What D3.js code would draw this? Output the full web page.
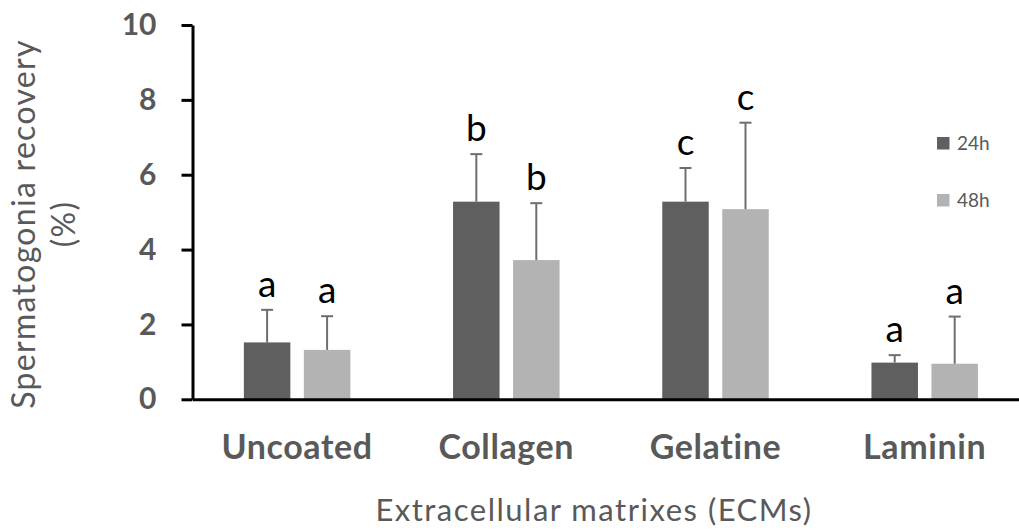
<!DOCTYPE html>
<html>
<head>
<meta charset="utf-8">
<script src="https://cdn.jsdelivr.net/npm/d3@7/dist/d3.min.js"></script>
<style>
  html, body { margin: 0; padding: 0; background: #fff; }
  svg { display: block; }
  text { font-family: Lato, "Open Sans", sans-serif; }
</style>
</head>
<body>
<svg id="chart" width="1019" height="532"></svg>
<script>
// Spermatogonia recovery (%) per extracellular matrix, after 24h and 48h
const categories = ["Uncoated", "Collagen", "Gelatine", "Laminin"];
const series = ["24h", "48h"];
const means24 = [1.52, 5.28, 5.28, 0.98];
const means48 = [1.32, 3.72, 5.08, 0.95];
const sd24 = [0.87, 1.27, 0.90, 0.20];
const sd48 = [0.90, 1.52, 2.31, 1.26];
const letters24 = ["a", "b", "c", "a"];
const letters48 = ["a", "b", "c", "a"];
const yTicks = [0, 2, 4, 6, 8, 10];

const colors = { "24h": "#5f5f5f", "48h": "#b3b3b3" };

const rows = categories.map((c, i) => ({
  category: c,
  bars: [
    { key: "24h", mean: means24[i], sd: sd24[i], letter: letters24[i] },
    { key: "48h", mean: means48[i], sd: sd48[i], letter: letters48[i] }
  ]
}));

const svg = d3.select("#chart");

const x0 = d3.scaleBand()
  .domain(categories)
  .range([192.5, 1029.3])
  .paddingInner(0.491)
  .paddingOuter(0.2455);

const x1 = d3.scaleBand()
  .domain(series)
  .range([0, x0.bandwidth()])
  .paddingInner(0.225);

const y = d3.scaleLinear().domain([0, 10]).range([399.3, 25]);

// bars
const groups = svg.append("g").selectAll("g")
  .data(rows)
  .join("g")
  .attr("transform", d => `translate(${x0(d.category)},0)`);

groups.selectAll("rect")
  .data(d => d.bars)
  .join("rect")
  .attr("x", d => x1(d.key))
  .attr("width", x1.bandwidth())
  .attr("y", d => y(d.mean))
  .attr("height", d => y(0) - y(d.mean))
  .attr("fill", d => colors[d.key]);

// upper error bars with caps
const capHalf = 6;
const err = groups.selectAll("g.err")
  .data(d => d.bars)
  .join("g")
  .attr("class", "err")
  .attr("stroke", "#6e6e6e")
  .attr("stroke-width", 2);

err.append("line")
  .attr("x1", d => x1(d.key) + x1.bandwidth() / 2)
  .attr("x2", d => x1(d.key) + x1.bandwidth() / 2)
  .attr("y1", d => y(d.mean))
  .attr("y2", d => y(d.mean + d.sd));

err.append("line")
  .attr("x1", d => x1(d.key) + x1.bandwidth() / 2 - capHalf)
  .attr("x2", d => x1(d.key) + x1.bandwidth() / 2 + capHalf)
  .attr("y1", d => y(d.mean + d.sd))
  .attr("y2", d => y(d.mean + d.sd));

// significance letters
groups.selectAll("text.sig")
  .data(d => d.bars)
  .join("text")
  .attr("class", "sig")
  .attr("x", d => x1(d.key) + x1.bandwidth() / 2)
  .attr("y", d => y(d.mean + d.sd) - 13)
  .attr("text-anchor", "middle")
  .attr("font-size", 37)
  .attr("fill", "#000")
  .text(d => d.letter);

// y axis
const yAxis = svg.append("g")
  .attr("transform", `translate(${x0.range()[0]},0)`)
  .call(d3.axisLeft(y).tickValues(yTicks).tickSize(11).tickPadding(25).tickSizeOuter(0));
yAxis.select(".domain").attr("stroke", "#000").attr("stroke-width", 3);
yAxis.selectAll(".tick line").attr("stroke", "#000").attr("stroke-width", 3);
yAxis.selectAll(".tick text")
  .attr("font-size", 30)
  .attr("font-weight", "bold")
  .attr("fill", "#595959")
  .attr("font-family", "Lato, sans-serif");

// x axis
const xAxis = svg.append("g")
  .attr("transform", `translate(0,${y(0)})`)
  .call(d3.axisBottom(x0).tickSize(0).tickPadding(36));
xAxis.select(".domain").attr("stroke", "#000").attr("stroke-width", 3);
xAxis.selectAll(".tick text")
  .attr("font-size", 34)
  .attr("font-weight", "bold")
  .attr("letter-spacing", 0.6)
  .attr("fill", "#595959")
  .attr("font-family", "Lato, sans-serif");

// axis titles
svg.append("text")
  .attr("x", 594)
  .attr("y", 521)
  .attr("text-anchor", "middle")
  .attr("font-size", 31)
  .attr("letter-spacing", 1.5)
  .attr("fill", "#595959")
  .text("Extracellular matrixes (ECMs)");

const yTitle = svg.append("text")
  .attr("transform", "translate(35,224) rotate(-90)")
  .attr("text-anchor", "middle")
  .attr("font-size", 32)
  .attr("letter-spacing", 1.3)
  .attr("fill", "#595959");
yTitle.append("tspan").attr("x", 0).attr("y", 0).text("Spermatogonia recovery");
yTitle.append("tspan").attr("x", 0).attr("y", 40).text("(%)");

// legend
const legend = svg.append("g").selectAll("g")
  .data(series)
  .join("g")
  .attr("transform", (d, i) => `translate(937,${137 + i * 57})`);
legend.append("rect")
  .attr("width", 12.5)
  .attr("height", 12.5)
  .attr("fill", d => colors[d]);
legend.append("text")
  .attr("x", 20)
  .attr("y", 6.5)
  .attr("dy", "0.35em")
  .attr("font-size", 19)
  .attr("fill", "#595959")
  .text(d => d);
</script>
</body>
</html>
